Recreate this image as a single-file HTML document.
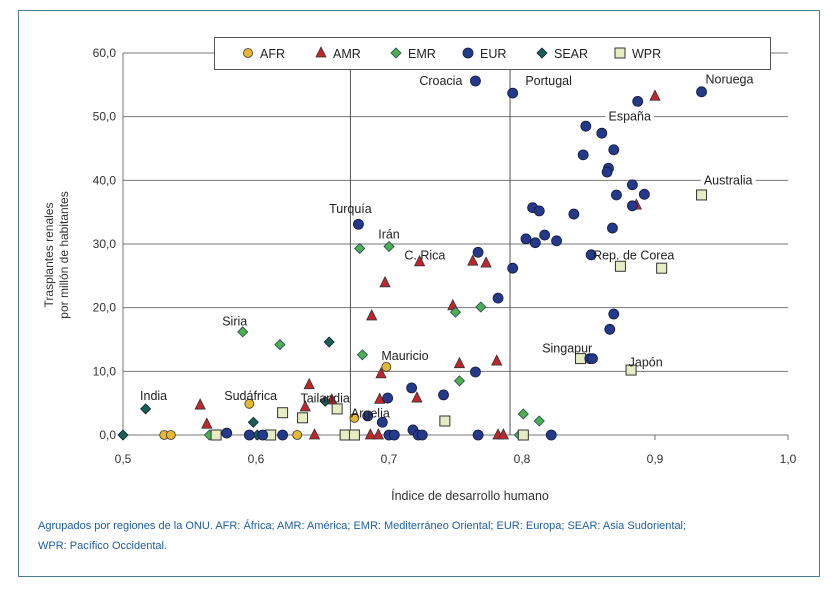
<!DOCTYPE html>
<html><head><meta charset="utf-8"><style>
body{margin:0;background:#fff;width:838px;height:594px;overflow:hidden;font-family:"Liberation Sans",sans-serif}
svg text{font-family:"Liberation Sans",sans-serif}
</style></head><body>
<svg id="chart" width="838" height="594">
<rect x="18.5" y="10.5" width="801" height="566" fill="#fff" stroke="#4a7c9c"/>
<g id="grid"></g><g id="marks"></g><g id="labels"></g>
<text x="470" y="500" font-size="12.5" fill="#333" text-anchor="middle">Índice de desarrollo humano</text>
<text transform="translate(60,255) rotate(-90)" font-size="12" fill="#333" text-anchor="middle"><tspan x="0" dy="-7">Trasplantes renales</tspan><tspan x="0" dy="15">por millón de habitantes</tspan></text>
<text x="38" y="529" font-size="11" fill="#1f5fa0">Agrupados por regiones de la ONU. AFR: África; AMR: América; EMR: Mediterráneo Oriental; EUR: Europa; SEAR: Asia Sudoriental;</text>
<text x="38" y="549" font-size="11" fill="#1f5fa0">WPR: Pacífico Occidental.</text>
<g id="legend"></g>
</svg>
<script>
const xTicks=[0.5,0.6,0.7,0.8,0.9,1.0];
const yTicks=[0,10,20,30,40,50,60];
const refLines=[0.671,0.791];
const afrX=[0.531,0.536,0.595,0.605,0.631,0.674,0.698];
const afrY=[0,0,4.9,0,0,2.7,10.7];
const amrX=[0.558,0.563,0.640,0.637,0.657,0.644,0.687,0.697,0.723,0.694,0.693,0.721,0.686,0.692,0.748,0.763,0.773,0.753,0.781,0.782,0.786,0.900,0.886];
const amrY=[4.7,1.7,7.9,4.4,5.5,0,18.7,23.9,27.2,9.6,5.6,5.8,0,0,20.3,27.3,27,11.2,11.6,0,0,53.2,36.1];
const emrX=[0.565,0.590,0.618,0.680,0.678,0.700,0.750,0.769,0.753,0.801,0.813,0.798];
const emrY=[0,16.2,14.2,12.6,29.3,29.6,19.3,20.1,8.5,3.3,2.2,0];
const eurX=[0.578,0.595,0.605,0.620,0.677,0.684,0.695,0.699,0.717,0.741,0.718,0.700,0.704,0.722,0.725,0.765,0.793,0.887,0.935,0.848,0.860,0.869,0.846,0.865,0.864,0.883,0.871,0.892,0.883,0.808,0.813,0.839,0.868,0.803,0.810,0.817,0.826,0.767,0.852,0.793,0.782,0.869,0.866,0.765,0.851,0.853,0.767,0.822];
const eurY=[0.3,0,0,0,33.1,3.0,2.0,5.8,7.4,6.3,0.8,0,0,0,0,55.6,53.7,52.4,53.9,48.5,47.4,44.8,44,41.9,41.3,39.3,37.7,37.8,36,35.7,35.2,34.7,32.5,30.8,30.2,31.4,30.5,28.7,28.3,26.2,21.5,19,16.6,9.9,12,12,0,0];
const searX=[0.5,0.517,0.598,0.655,0.652,0.601];
const searY=[0,4.1,2.0,14.6,5.3,0];
const wprX=[0.570,0.611,0.620,0.635,0.661,0.667,0.674,0.742,0.801,0.844,0.874,0.905,0.935,0.882];
const wprY=[0,0,3.5,2.7,4.1,0,0,2.2,0,12,26.5,26.2,37.7,10.2];
const labelNames=["Croacia","Portugal","Noruega","España","Australia","Turquía","Irán","C. Rica","Rep. de Corea","Siria","Mauricio","Singapur","Japón","India","Sudáfrica","Tailandia","Argelia"];
const labelX=[0.739,0.820,0.956,0.881,0.955,0.671,0.700,0.727,0.884,0.584,0.712,0.834,0.893,0.523,0.596,0.652,0.686];
const labelY=[55.6,55.6,55.8,50,40,35.5,31.5,28.2,28.2,17.8,12.4,13.6,11.4,6.1,6.1,5.7,3.4];

const X=v=>123+(v-0.5)*1330, Y=v=>435-v*6.367;
const NS="http://www.w3.org/2000/svg";
function mk(t,a,p){const e=document.createElementNS(NS,t);for(const k in a)e.setAttribute(k,a[k]);p.appendChild(e);return e;}
const grid=document.getElementById('grid'),marks=document.getElementById('marks'),labs=document.getElementById('labels'),leg=document.getElementById('legend');
yTicks.forEach(t=>{
 const l=mk('line',{x1:123,x2:788,y1:Y(t),y2:Y(t),stroke:'#777','stroke-width':1},grid);
 
 
 const tx=mk('text',{x:116,y:Y(t)+4,'font-size':12,fill:'#333','text-anchor':'end'},grid);tx.textContent=t.toFixed(1).replace('.',',');
 
 
});
const ax=mk('line',{x1:123,x2:123,y1:Y(60),y2:Y(0),stroke:'#777'},grid);


xTicks.forEach(t=>{
 const tk=mk('line',{x1:X(t),x2:X(t),y1:Y(0),y2:Y(0)+5,stroke:'#777'},grid);
 
 
 const tx=mk('text',{x:X(t),y:Y(0)+28,'font-size':12,fill:'#333','text-anchor':'middle'},grid);tx.textContent=t.toFixed(1).replace('.',',');
 
 
});
refLines.forEach(r=>{
 const l=mk('line',{x1:X(r),x2:X(r),y1:Y(60),y2:Y(0),stroke:'#555'},grid);
 
 
});
function shape(kind,x,y,p){
 let e;
 if(kind==='afr')e=mk('circle',{cx:x,cy:y,r:4.5,fill:'#e8b830',stroke:'#333','stroke-width':0.8},p);
 else if(kind==='eur')e=mk('circle',{cx:x,cy:y,r:5,fill:'#24398a',stroke:'#111a40','stroke-width':0.8},p);
 else if(kind==='amr')e=mk('polygon',{points:`${x},${y-6} ${x+5},${y+4} ${x-5},${y+4}`,fill:'#c0262c',stroke:'#333','stroke-width':0.8},p);
 else if(kind==='emr')e=mk('polygon',{points:`${x},${y-5} ${x+5},${y} ${x},${y+5} ${x-5},${y}`,fill:'#4cb050',stroke:'#245','stroke-width':0.8},p);
 else if(kind==='sear')e=mk('polygon',{points:`${x},${y-5} ${x+5},${y} ${x},${y+5} ${x-5},${y}`,fill:'#1b5e56',stroke:'#123','stroke-width':0.8},p);
 else e=mk('rect',{x:x-5,y:y-5,width:10,height:10,fill:'#e6ecc4',stroke:'#333','stroke-width':1},p);
 return e;
}
const series=[['afr',afrX,afrY],['amr',amrX,amrY],['emr',emrX,emrY],['wpr',wprX,wprY],['sear',searX,searY],['eur',eurX,eurY]];
series.forEach(([k,xs,ys])=>xs.forEach((v,i)=>{
 const e=shape(k,X(v),Y(ys[i]),marks);
 
 
}));
labelNames.forEach((n,i)=>{
 const t=mk('text',{x:X(labelX[i]),y:Y(labelY[i])+4,'font-size':12.5,fill:'#222','text-anchor':'middle'},labs);
 t.textContent=n;
 
 
 if(n==='España'||n==='Australia'){const b=t.getBBox();const r=mk('rect',{x:b.x-3,y:b.y,width:b.width+6,height:b.height,fill:'#fff'},labs);labs.insertBefore(r,t);}
});
const lb=mk('rect',{x:214.5,y:37.5,width:556,height:32,fill:'#fff',stroke:'#555'},leg);


const legKeys=['afr','amr','emr','eur','sear','wpr'],legNames=['AFR','AMR','EMR','EUR','SEAR','WPR'],legPos=[248,321,396,468,542,620];
legKeys.forEach((k,i)=>{
 const g=mk('g',{},leg);
 
 
 shape(k,legPos[i],53,g);
 const t=mk('text',{x:legPos[i]+12,y:58,'font-size':12.5,fill:'#222'},g);t.textContent=legNames[i];
});
</script>
</body></html>
